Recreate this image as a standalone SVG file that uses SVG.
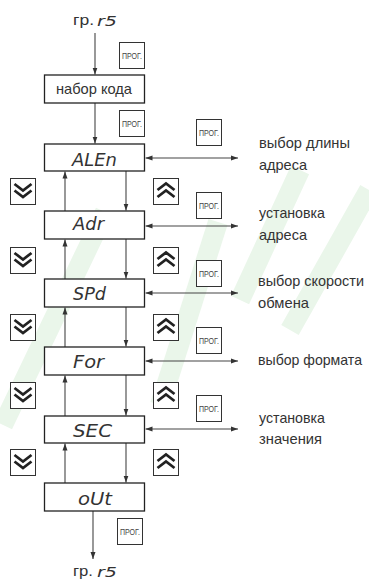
<svg xmlns="http://www.w3.org/2000/svg" width="369" height="583" viewBox="0 0 369 583">
<style>
.lbl{font-family:"Liberation Sans Narrow","Liberation Sans",Arial,sans-serif;font-size:15px;fill:#333}
.lbs{font-size:14.4px}
.seg{font-family:"DejaVu Sans","Liberation Sans",sans-serif;font-weight:200;font-style:italic;font-size:18px;fill:#333}
.segs{font-family:"DejaVu Sans","Liberation Sans",sans-serif;font-weight:200;font-style:italic;font-size:14px;fill:#333}
.prg{font-family:"Liberation Sans Narrow","Liberation Sans",Arial,sans-serif;font-size:9px;fill:#444}
.box{fill:#fff;stroke:#222;stroke-width:1.3}
.btn{fill:#fff;stroke:#333;stroke-width:1}
.chev{fill:none;stroke:#222;stroke-width:2.8}
.ln{fill:none;stroke:#444;stroke-width:1.1}
.wm{fill:none;stroke:#eaf6ea;stroke-width:20}
</style>
<defs>
<marker id="ah" markerUnits="userSpaceOnUse" markerWidth="7" markerHeight="6" refX="7" refY="3" orient="auto-start-reverse">
<path d="M0,0.5 L7,3 L0,5.5 z" fill="#333"/>
</marker>
<g id="pb"><rect class="btn" x="0.5" y="0.5" width="25" height="26"/><text class="prg" x="13" y="16.5" text-anchor="middle" textLength="20" lengthAdjust="spacingAndGlyphs">ПРОГ.</text></g>
<g id="dn"><rect class="btn" x="0.5" y="0.5" width="25" height="26"/><path class="chev" d="M4.5,6 L13,12.5 L21.5,6 M4.5,12.5 L13,19 L21.5,12.5"/></g>
<g id="up"><rect class="btn" x="0.5" y="0.5" width="25" height="26"/><path class="chev" d="M4.5,12 L13,5.5 L21.5,12 M4.5,19 L13,12.5 L21.5,19"/></g>
</defs>
<g id="watermark">
<path class="wm" d="M3,425 L105,212"/>
<path class="wm" d="M160,405 L218,222"/>
<path class="wm" d="M240,300 L300,170"/>
<path class="wm" d="M290,330 L369,190"/>
</g>
<g id="connectors">
<path class="ln" d="M95,33 V74.5" marker-end="url(#ah)"/>
<path class="ln" d="M95,103 V143.5" marker-end="url(#ah)"/>
<path class="ln" d="M65,211 V171.5" marker-end="url(#ah)"/>
<path class="ln" d="M65,279 V239.5" marker-end="url(#ah)"/>
<path class="ln" d="M65,347 V307.5" marker-end="url(#ah)"/>
<path class="ln" d="M65,416 V375.5" marker-end="url(#ah)"/>
<path class="ln" d="M65,483 V443.5" marker-end="url(#ah)"/>
<path class="ln" d="M126,171 V210.5" marker-end="url(#ah)"/>
<path class="ln" d="M126,239 V278.5" marker-end="url(#ah)"/>
<path class="ln" d="M126,307 V346.5" marker-end="url(#ah)"/>
<path class="ln" d="M126,375 V415.5" marker-end="url(#ah)"/>
<path class="ln" d="M126,443 V482.5" marker-end="url(#ah)"/>
<path class="ln" d="M145.5,158 H238" marker-start="url(#ah)" marker-end="url(#ah)"/>
<path class="ln" d="M145.5,226 H238" marker-start="url(#ah)" marker-end="url(#ah)"/>
<path class="ln" d="M145.5,293 H238" marker-start="url(#ah)" marker-end="url(#ah)"/>
<path class="ln" d="M145.5,361 H238" marker-start="url(#ah)" marker-end="url(#ah)"/>
<path class="ln" d="M145.5,429 H238" marker-start="url(#ah)" marker-end="url(#ah)"/>
<path class="ln" d="M93,511 V559" marker-end="url(#ah)"/>
</g>
<g id="start"><text class="lbl" x="73" y="25" textLength="21" lengthAdjust="spacingAndGlyphs">гр.</text><text class="segs" x="97" y="26" textLength="20" lengthAdjust="spacingAndGlyphs">r5</text></g>
<g id="end"><text class="lbl" x="73" y="576" textLength="20" lengthAdjust="spacingAndGlyphs">гр.</text><text class="segs" x="97" y="577" textLength="20" lengthAdjust="spacingAndGlyphs">r5</text></g>
<g id="code"><rect class="box" x="44.5" y="75" width="100" height="28"/><text class="lbl" x="56" y="94" textLength="76" lengthAdjust="spacingAndGlyphs">набор кода</text></g>
<g id="ALEn"><rect class="box" x="44.5" y="144" width="100" height="27"/><text class="seg" x="72" y="166" textLength="45" lengthAdjust="spacingAndGlyphs">ALEn</text></g>
<g id="Adr"><rect class="box" x="44.5" y="211" width="100" height="28"/><text class="seg" x="73" y="230" textLength="31" lengthAdjust="spacingAndGlyphs">Adr</text></g>
<g id="SPd"><rect class="box" x="44.5" y="279" width="100" height="28"/><text class="seg" x="73" y="300" textLength="33" lengthAdjust="spacingAndGlyphs">SPd</text></g>
<g id="For"><rect class="box" x="44.5" y="347" width="100" height="28"/><text class="seg" x="73" y="368" textLength="31" lengthAdjust="spacingAndGlyphs">For</text></g>
<g id="SEC"><rect class="box" x="44.5" y="416" width="100" height="27"/><text class="seg" x="73" y="437" textLength="39" lengthAdjust="spacingAndGlyphs">SEC</text></g>
<g id="oUt"><rect class="box" x="44.5" y="483" width="100" height="28"/><text class="seg" x="78" y="505" textLength="34" lengthAdjust="spacingAndGlyphs">oUt</text></g>
<g id="prog-buttons">
<use href="#pb" x="119" y="42"/>
<use href="#pb" x="119" y="110"/>
<use href="#pb" x="196" y="119"/>
<use href="#pb" x="196" y="192"/>
<use href="#pb" x="196" y="260"/>
<use href="#pb" x="196" y="327"/>
<use href="#pb" x="196" y="395"/>
<use href="#pb" x="117" y="518"/>
</g>
<g id="down-buttons">
<use href="#dn" x="10" y="178"/>
<use href="#dn" x="10" y="247"/>
<use href="#dn" x="10" y="314"/>
<use href="#dn" x="10" y="382"/>
<use href="#dn" x="10" y="449"/>
</g>
<g id="up-buttons">
<use href="#up" x="153" y="178"/>
<use href="#up" x="153" y="247"/>
<use href="#up" x="153" y="314"/>
<use href="#up" x="153" y="382"/>
<use href="#up" x="153" y="449"/>
</g>
<g id="labels">
<text class="lbl" x="259" y="148" textLength="91" lengthAdjust="spacingAndGlyphs">выбор длины</text>
<text class="lbl" x="259" y="170" textLength="48" lengthAdjust="spacingAndGlyphs">адреса</text>
<text class="lbl" x="259" y="218" textLength="66" lengthAdjust="spacingAndGlyphs">установка</text>
<text class="lbl" x="259" y="240" textLength="48" lengthAdjust="spacingAndGlyphs">адреса</text>
<text class="lbl lbs" x="258" y="286" textLength="106" lengthAdjust="spacingAndGlyphs">выбор скорости</text>
<text class="lbl" x="258" y="308" textLength="51" lengthAdjust="spacingAndGlyphs">обмена</text>
<text class="lbl lbs" x="258" y="365" textLength="104" lengthAdjust="spacingAndGlyphs">выбор формата</text>
<text class="lbl" x="259" y="423" textLength="66" lengthAdjust="spacingAndGlyphs">установка</text>
<text class="lbl" x="259" y="444" textLength="63" lengthAdjust="spacingAndGlyphs">значения</text>
</g>
</svg>
